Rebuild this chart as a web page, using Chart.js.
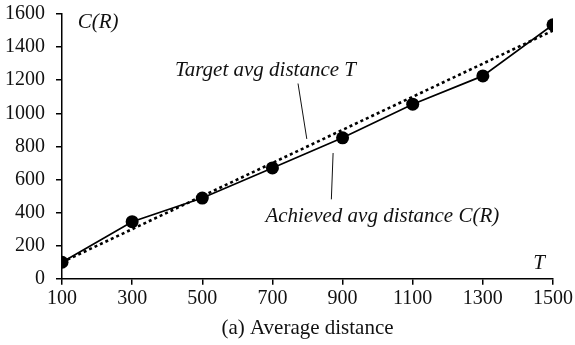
<!DOCTYPE html>
<html>
<head>
<meta charset="utf-8">
<script src="https://cdn.jsdelivr.net/npm/chart.js@4.4.0/dist/chart.umd.min.js"></script>
<style>
  html, body { margin: 0; padding: 0; background: #fff; }
  #wrap { width: 575px; height: 345px; }
</style>
</head>
<body>
<div id="wrap"><canvas id="grafico"></canvas></div>
<script>
// valores de T y distancias medias
const tValores = [100, 300, 500, 700, 900, 1100, 1300, 1500];
const distObjetivo = [100, 300, 500, 700, 900, 1100, 1300, 1500];
const distLograda = [100, 345, 488, 670, 852, 1055, 1226, 1535];
const yTicks = [0, 200, 400, 600, 800, 1000, 1200, 1400, 1600];

const fuente = "'Liberation Serif', 'DejaVu Serif', serif";

const puntos = (ys) => tValores.map((t, i) => ({ x: t, y: ys[i] }));

// etiquetas en cursiva y lineas guia, ubicadas en coordenadas de datos
const etiquetas = {
    id: 'etiquetas',
    afterDatasetsDraw(chart) {
        const { ctx, scales: { x, y } } = chart;
        ctx.save();
        ctx.fillStyle = '#111';
        ctx.strokeStyle = '#111';
        ctx.font = `italic 21px ${fuente}`;
        ctx.textBaseline = 'middle';

        ctx.textAlign = 'left';
        ctx.fillText('C(R)', x.getPixelForValue(145), y.getPixelForValue(1550));
        ctx.fillText('Target avg distance T', x.getPixelForValue(422), y.getPixelForValue(1258));
        ctx.fillText('Achieved avg distance C(R)', x.getPixelForValue(680), y.getPixelForValue(378));
        ctx.textAlign = 'right';
        ctx.fillText('T', x.getPixelForValue(1477), y.getPixelForValue(92));

        ctx.lineWidth = 1;
        ctx.beginPath();
        ctx.moveTo(x.getPixelForValue(773), y.getPixelForValue(1180));
        ctx.lineTo(x.getPixelForValue(798), y.getPixelForValue(845));
        ctx.moveTo(x.getPixelForValue(873), y.getPixelForValue(760));
        ctx.lineTo(x.getPixelForValue(868), y.getPixelForValue(480));
        ctx.stroke();
        ctx.restore();
    }
};

new Chart(document.querySelector('#grafico'), {
    type: 'line',
    data: {
        datasets: [
            {
                label: 'Achieved avg distance C(R)',
                data: puntos(distLograda),
                borderColor: '#000',
                backgroundColor: '#000',
                borderWidth: 1.7,
                pointRadius: 6.5,
                pointHoverRadius: 6.5,
                pointBorderWidth: 0,
                order: 0
            },
            {
                label: 'Target avg distance T',
                data: puntos(distObjetivo),
                borderColor: '#000',
                borderWidth: 2.6,
                borderDash: [3, 3],
                pointRadius: 0,
                order: 1
            }
        ]
    },
    options: {
        responsive: true,
        maintainAspectRatio: false,
        animation: false,
        layout: { padding: { top: 0, right: 22, left: 0, bottom: 4 } },
        plugins: {
            legend: { display: false },
            tooltip: { enabled: false },
            title: {
                display: true,
                position: 'bottom',
                fullSize: false,
                text: '(a) Average distance',
                color: '#111',
                font: { family: fuente, size: 21, weight: 'normal' },
                padding: { top: 3, bottom: 0 },
                align: 'center'
            }
        },
        scales: {
            x: {
                type: 'linear',
                min: 100,
                max: 1500,
                afterBuildTicks: s => { s.ticks = tValores.map(v => ({ value: v })); },
                grid: { drawOnChartArea: false, tickLength: 6, color: '#000', lineWidth: 1.5 },
                border: { color: '#000', width: 1.5 },
                ticks: {
                    color: '#111',
                    padding: 2,
                    maxRotation: 0,
                    autoSkip: false,
                    callback: v => String(v),
                    font: { family: fuente, size: 20 }
                }
            },
            y: {
                min: 0,
                max: 1600,
                afterBuildTicks: s => { s.ticks = yTicks.map(v => ({ value: v })); },
                afterFit: s => { s.width = 62; s.paddingTop = 14; },
                grid: { drawOnChartArea: false, tickLength: 6, color: '#000', lineWidth: 1.5 },
                border: { color: '#000', width: 1.5 },
                ticks: {
                    color: '#111',
                    padding: 11,
                    autoSkip: false,
                    callback: v => String(v),
                    font: { family: fuente, size: 20 }
                }
            }
        }
    },
    plugins: [etiquetas]
});
</script>
</body>
</html>
